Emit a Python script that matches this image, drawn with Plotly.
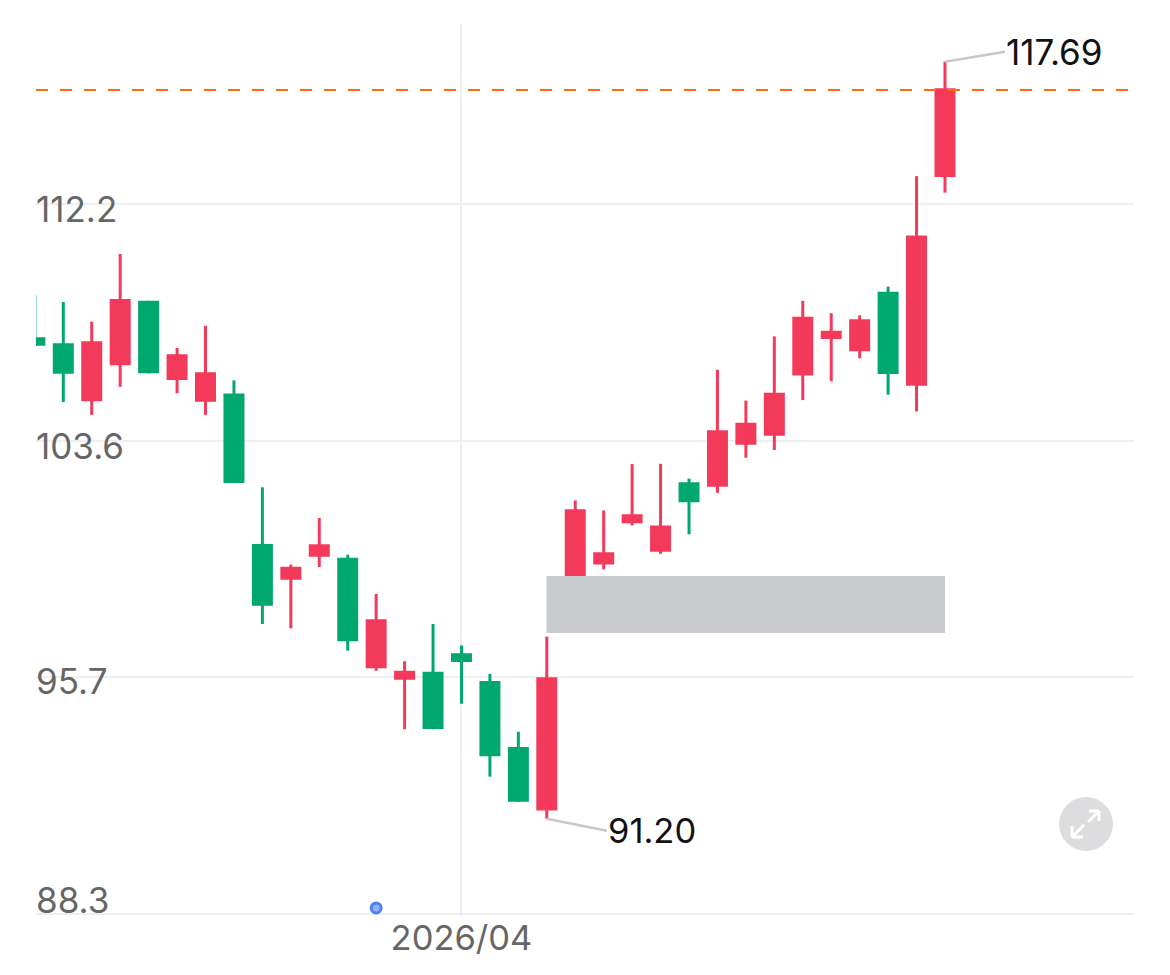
import math
import plotly.graph_objects as go

# One entry per candle; red candles close above their open, green below.
opens = [107.26, 107.04, 104.97, 106.25, 108.58, 105.72, 104.95, 105.24, 100.04, 98.84, 99.61,
         99.58, 95.94, 95.57, 95.83, 96.43, 95.53, 93.43, 91.45, 98.84, 99.35, 100.74,
         99.78, 102.14, 101.99, 103.44, 103.76, 105.88, 107.19, 106.75, 108.91, 105.52, 113.21]
closes = [106.95, 105.95, 107.11, 108.65, 105.96, 106.64, 106.00, 102.12, 97.98, 99.28, 100.03,
          96.82, 97.54, 95.86, 94.00, 96.14, 93.14, 91.72, 95.65, 101.22, 99.76, 101.05,
          100.67, 101.46, 103.95, 104.21, 105.27, 108.00, 107.49, 107.91, 105.94, 111.00, 116.64]
highs = [108.79, 108.54, 107.82, 110.31, 108.58, 106.87, 107.67, 105.71, 101.97, 99.35, 100.92,
         99.68, 98.37, 96.17, 97.38, 96.68, 95.76, 93.91, 96.97, 101.52, 101.18, 102.77,
         102.78, 102.27, 106.09, 104.99, 107.29, 108.58, 108.13, 108.05, 109.10, 113.24, 117.69]
lows = [106.95, 104.94, 104.49, 105.48, 105.96, 105.25, 104.49, 102.12, 97.38, 97.24, 99.27,
        96.51, 95.86, 93.99, 93.99, 94.80, 92.50, 91.72, 91.20, 98.84, 99.19, 100.67,
        99.71, 100.37, 101.78, 102.99, 103.26, 105.01, 105.68, 106.50, 105.20, 104.61, 112.61]
positions = list(range(len(opens)))

y_tick_values = [112.18, 103.58, 95.66, 88.32]
y_tick_labels = ["112.2", "103.6", "95.7", "88.3"]
y_label_shifts = [-5, -5, -4, 14]
x_tick_positions = [15]
x_tick_labels = ["2026/04"]

reference_price = 116.57
marker_position = [12]
marker_price = [88.50]
low_label = "91.20"
high_label = "117.69"

RED = "#F33A5A"
GREEN = "#00A870"
GRID = "#EFEFF1"
AXIS_TEXT = "#666666"
FONT = "Inter"

L, T, R, B = 36, 24, 1134, 916


def px(x):
    return (x - L) / (R - L)


def py(y):
    return (B - y) / (B - T)


def wick_trace(color, keep):
    xs, ys = [], []
    for i in positions:
        if keep(i):
            xs += [i, i, None]
            ys += [lows[i], highs[i], None]
    return go.Scatter(x=xs, y=ys, mode="lines", line=dict(color=color, width=3),
                      hoverinfo="skip", showlegend=False)


fig = go.Figure()
fig.add_trace(wick_trace(RED, lambda i: closes[i] >= opens[i]))
fig.add_trace(wick_trace(GREEN, lambda i: closes[i] < opens[i]))
fig.add_trace(go.Candlestick(
    x=positions, open=opens, high=highs, low=lows, close=closes,
    whiskerwidth=0,
    increasing=dict(line=dict(color=RED, width=0), fillcolor=RED),
    decreasing=dict(line=dict(color=GREEN, width=0), fillcolor=GREEN),
    showlegend=False,
))
fig.add_trace(go.Scatter(
    x=marker_position, y=marker_price, mode="markers",
    marker=dict(size=10, color="#8FB0F8", line=dict(color="#4F81F0", width=3)),
    showlegend=False, cliponaxis=False,
))

annotations = []
for value, label, shift in zip(y_tick_values, y_tick_labels, y_label_shifts):
    annotations.append(dict(
        xref="paper", yref="y", x=0, y=math.log10(value), text=label, showarrow=False,
        xanchor="left", yanchor="middle", yshift=shift, borderpad=0, borderwidth=0,
        font=dict(family=FONT, size=35, color=AXIS_TEXT),
    ))
annotations.append(dict(
    xref="x", yref="y", x=18, y=math.log10(lows[18]), text=low_label,
    showarrow=True, arrowhead=0, arrowwidth=2.5, arrowcolor="#C8C8CA", standoff=0,
    axref="pixel", ayref="pixel", ax=60, ay=12,
    xanchor="left", yanchor="middle", borderpad=0,
    font=dict(family=FONT, size=34.5, color="#111111"),
))
annotations.append(dict(
    xref="x", yref="y", x=32, y=math.log10(highs[32]), text=high_label,
    showarrow=True, arrowhead=0, arrowwidth=2.5, arrowcolor="#C8C8CA", standoff=0,
    axref="pixel", ayref="pixel", ax=60, ay=-10,
    xanchor="left", yanchor="middle", borderpad=0,
    font=dict(family=FONT, size=35, color="#111111"),
))

shapes = [
    # reference price
    dict(type="line", xref="paper", yref="paper", x0=0, x1=1,
         y0=py(90), y1=py(90),
         line=dict(color="#FF6A13", width=2, dash="12px,12px")),
    # grey block over the chart
    dict(type="rect", xref="paper", yref="paper", x0=px(546.5), x1=px(945),
         y0=py(633), y1=py(576), fillcolor="#CACBCE", line=dict(width=0)),
    # expand button
    dict(type="circle", xref="paper", yref="paper", x0=px(1059), x1=px(1113),
         y0=py(851), y1=py(797), fillcolor="#DDDDDF", line=dict(width=0)),
]
for x0, y0, x1, y1 in [(1072, 837, 1083, 837), (1072, 837, 1072, 826), (1072, 837, 1084, 825),
                       (1099, 811, 1089, 811), (1099, 811, 1099, 821), (1099, 811, 1088, 822)]:
    shapes.append(dict(type="line", xref="paper", yref="paper", x0=px(x0), x1=px(x1),
                       y0=py(y0), y1=py(y1), line=dict(color="#FFFFFF", width=3)))

fig.update_layout(
    width=1170, height=975, autosize=False,
    margin=dict(l=L, r=1170 - R, t=T, b=975 - B, pad=0),
    paper_bgcolor="#FFFFFF", plot_bgcolor="#FFFFFF",
    showlegend=False, boxgap=0.262, boxgroupgap=0,
    annotations=annotations, shapes=shapes,
    xaxis=dict(
        range=[0.04, 38.646], rangeslider=dict(visible=False), automargin=False,
        tickmode="array", tickvals=x_tick_positions, ticktext=x_tick_labels,
        showgrid=True, gridcolor=GRID, gridwidth=1.5, zeroline=False, showline=False,
        ticks="", ticklabelstandoff=-2,
        tickfont=dict(family=FONT, size=34.5, color=AXIS_TEXT),
    ),
    yaxis=dict(
        type="log", range=[1.94576, 2.07625], automargin=False,
        tickmode="array", tickvals=y_tick_values, showticklabels=False,
        showgrid=True, gridcolor=GRID, gridwidth=1.5, zeroline=False, showline=False,
    ),
)

fig.write_html("out.html", config=dict(displayModeBar=False),
               post_script="document.body.style.margin='0';document.body.style.overflow='hidden';")
